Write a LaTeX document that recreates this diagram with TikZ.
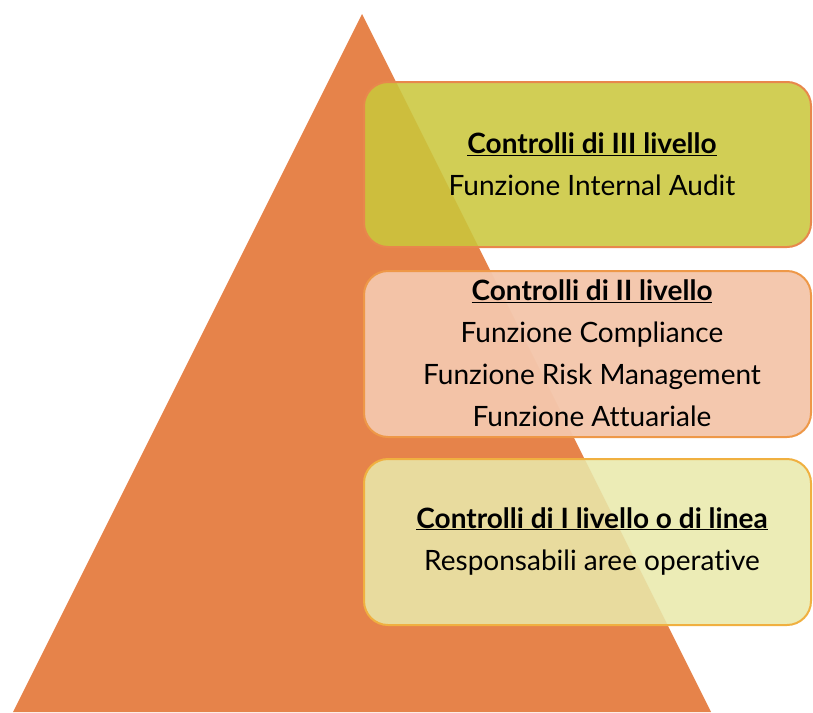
\documentclass[tikz,border=0pt]{standalone}
\usepackage{fontspec}
\setmainfont{Lato}[Ligatures=NoCommon]
\definecolor{tri}{HTML}{E6834A}
\definecolor{fillA}{HTML}{CAC73C}
\definecolor{fillB}{HTML}{F4C6AB}
\definecolor{fillC}{HTML}{E9E9AB}
\definecolor{lineA}{HTML}{E8874C}
\definecolor{lineB}{HTML}{EE9848}
\definecolor{lineC}{HTML}{F0B040}
\tikzset{
  levelbox/.style={draw, line width=2pt, rounded corners=24pt, fill opacity=0.87, text opacity=1},
  boxtext/.style={align=center, font=\fontsize{28}{42}\selectfont, text=black}
}
\newcommand{\ttl}[1]{\underline{\textbf{#1}}}
\begin{document}
\begin{tikzpicture}[x=1pt,y=-1pt]
\useasboundingbox (0,0) rectangle (813,712);
\fill[tri] (362,14) coordinate (apex) -- (13,712) coordinate (bl) -- (711,712) coordinate (br) -- cycle;
\draw[levelbox, draw=lineA, fill=fillA] (364,82) rectangle (811,247);
\draw[levelbox, draw=lineB, fill=fillB, fill opacity=0.97] (364,271) rectangle (811,437);
\draw[levelbox, draw=lineC, fill=fillC] (364,459) rectangle (811,625);
\node[boxtext] (t1) at (592,164) {\ttl{Controlli di III livello}\\Funzione Internal Audit};
\node[boxtext] (t2) at (592,353) {\ttl{Controlli di II livello}\\Funzione Compliance\\Funzione Risk Management\\Funzione Attuariale};
\node[boxtext] (t3) at (592,541) {\ttl{Controlli di I livello o di linea}\\Responsabili aree operative};
\end{tikzpicture}
\end{document}
